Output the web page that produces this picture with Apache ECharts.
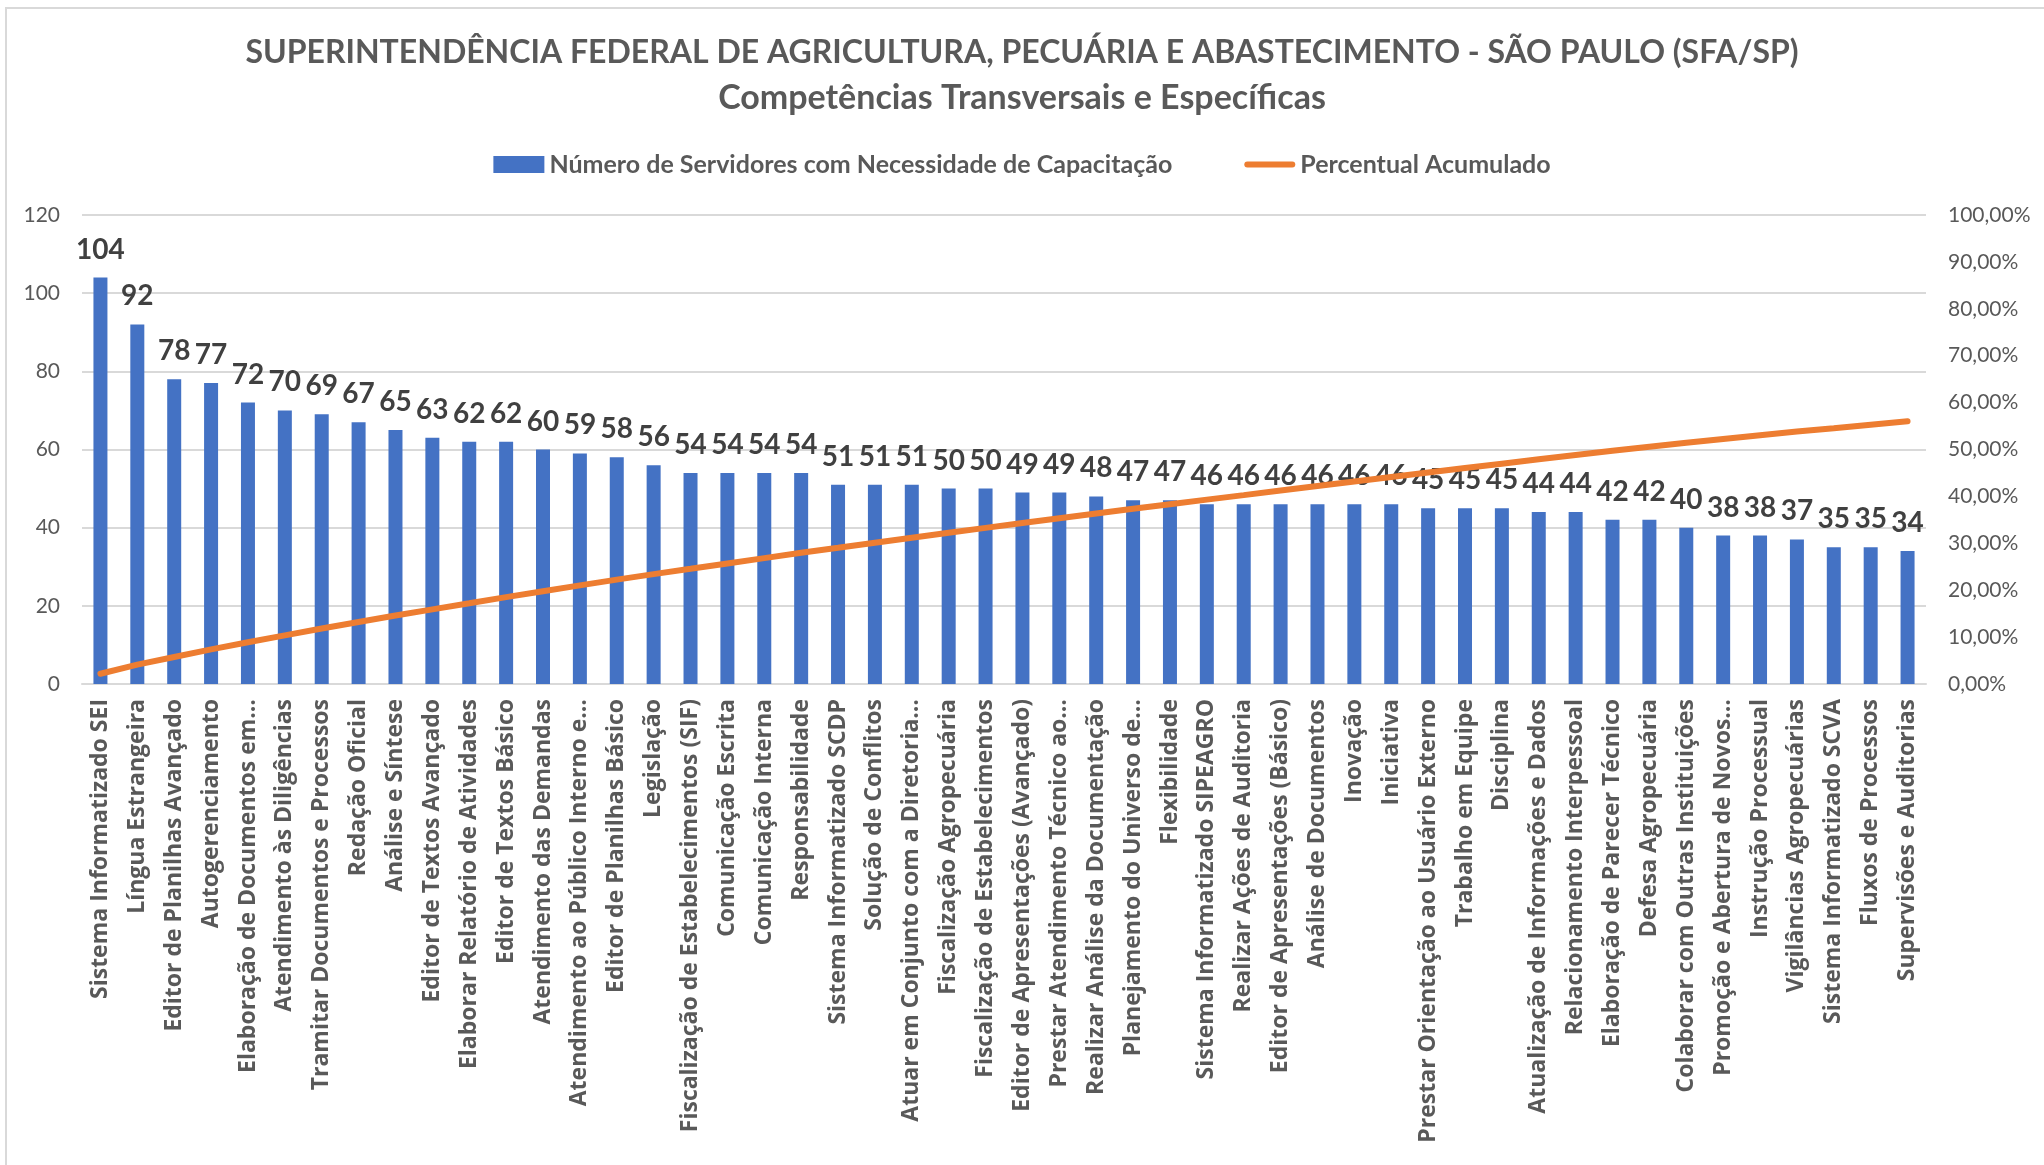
<!DOCTYPE html>
<html>
<head>
<meta charset="utf-8">
<script src="https://cdn.jsdelivr.net/npm/echarts/dist/echarts.min.js"></script>
<style>
html,body{margin:0;padding:0;background:#fff;}
#paretochart{width:2044px;height:1165px;}
</style>
</head>
<body>
<div id="paretochart"></div>
<script>
var categorias = ['Sistema Informatizado SEI','Língua Estrangeira','Editor de Planilhas Avançado','Autogerenciamento','Elaboração de Documentos em…','Atendimento às Diligências','Tramitar Documentos e Processos','Redação Oficial','Análise e Síntese','Editor de Textos Avançado','Elaborar Relatório de Atividades','Editor de Textos Básico','Atendimento das Demandas','Atendimento ao Público Interno e…','Editor de Planilhas Básico','Legislação','Fiscalização de Estabelecimentos (SIF)','Comunicação Escrita','Comunicação Interna','Responsabilidade','Sistema Informatizado SCDP','Solução de Conflitos','Atuar em Conjunto com a Diretoria…','Fiscalização Agropecuária','Fiscalização de Estabelecimentos','Editor de Apresentações (Avançado)','Prestar Atendimento Técnico ao…','Realizar Análise da Documentação','Planejamento do Universo de…','Flexibilidade','Sistema Informatizado SIPEAGRO','Realizar Ações de Auditoria','Editor de Apresentações (Básico)','Análise de Documentos','Inovação','Iniciativa','Prestar Orientação ao Usuário Externo','Trabalho em Equipe','Disciplina','Atualização de Informações e Dados','Relacionamento Interpessoal','Elaboração de Parecer Técnico','Defesa Agropecuária','Colaborar com Outras Instituições','Promoção e Abertura de Novos…','Instrução Processual','Vigilâncias Agropecuárias','Sistema Informatizado SCVA','Fluxos de Processos','Supervisões e Auditorias'];
var servidores = [104,92,78,77,72,70,69,67,65,63,62,62,60,59,58,56,54,54,54,54,51,51,51,50,50,49,49,48,47,47,46,46,46,46,46,46,45,45,45,44,44,42,42,40,38,38,37,35,35,34];
var percentual = [2.19,4.12,5.76,7.38,8.90,10.37,11.82,13.23,14.60,15.92,17.22,18.53,19.79,21.03,22.25,23.43,24.56,25.70,26.84,27.97,29.04,30.12,31.19,32.24,33.29,34.32,35.35,36.36,37.35,38.34,39.31,40.27,41.24,42.21,43.18,44.14,45.09,46.04,46.98,47.91,48.83,49.72,50.60,51.44,52.24,53.04,53.82,54.55,55.29,56.00];
var ticksEsq = [0,20,40,60,80,100,120];
var ticksDir = [0,10,20,30,40,50,60,70,80,90,100];

var option = {
    backgroundColor: '#ffffff',
    textStyle: {
        fontFamily: 'Lato'
    },
    color: ['#4472c4', '#ed7d31'],
    title: [{
        text: 'SUPERINTENDÊNCIA FEDERAL DE AGRICULTURA, PECUÁRIA E ABASTECIMENTO - SÃO PAULO (SFA/SP)',
        left: 'center',
        top: 32,
        textStyle: {
            color: '#595959',
            fontSize: 32,
            fontWeight: 'bold',
            fontFamily: 'Lato'
        }
    }, {
        text: 'Competências Transversais e Específicas',
        left: 'center',
        top: 76,
        textStyle: {
            color: '#595959',
            fontSize: 34,
            fontWeight: 'bold',
            fontFamily: 'Lato'
        }
    }],
    legend: {
        top: 147,
        left: 'center',
        itemWidth: 51,
        itemHeight: 17,
        itemGap: 72,
        textStyle: {
            color: '#595959',
            fontSize: 25,
            fontWeight: 'bold',
            fontFamily: 'Lato'
        },
        data: [
            {name: 'Número de Servidores com Necessidade de Capacitação', icon: 'rect'},
            {name: 'Percentual Acumulado', icon: 'path://M3,0L48,0A3,3,0,0,1,48,6L3,6A3,3,0,0,1,3,0Z'}
        ]
    },
    grid: {
        left: 82,
        right: 118,
        top: 215,
        bottom: 481,
        containLabel: false
    },
    xAxis: {
        type: 'category',
        data: categorias,
        axisTick: {show: false},
        axisLine: {
            lineStyle: {
                color: '#d9d9d9',
                width: 2
            }
        },
        axisLabel: {
            interval: 0,
            rotate: 90,
            margin: 15,
            color: '#595959',
            fontSize: 23,
            fontWeight: 'bold',
            fontFamily: 'Open Sans'
        }
    },
    yAxis: [{
        type: 'value',
        min: ticksEsq[0],
        max: ticksEsq[ticksEsq.length - 1],
        interval: 20,
        axisLine: {show: false},
        axisTick: {show: false},
        splitLine: {
            lineStyle: {
                color: '#d9d9d9',
                width: 2
            }
        },
        axisLabel: {
            margin: 22,
            color: '#595959',
            fontSize: 21,
            fontFamily: 'Lato'
        }
    }, {
        type: 'value',
        min: ticksDir[0],
        max: ticksDir[ticksDir.length - 1],
        interval: 10,
        axisLine: {show: false},
        axisTick: {show: false},
        splitLine: {show: false},
        axisLabel: {
            margin: 22,
            color: '#595959',
            fontSize: 21,
            fontFamily: 'Lato',
            formatter: function (v) {
                return v.toFixed(2).replace('.', ',') + '%';
            }
        }
    }],
    series: [{
        name: 'Número de Servidores com Necessidade de Capacitação',
        type: 'bar',
        barWidth: 14,
        yAxisIndex: 0,
        itemStyle: {color: '#4472c4'},
        label: {
            show: true,
            position: 'top',
            distance: 14,
            color: '#404040',
            fontSize: 28,
            fontWeight: 'bold',
            fontFamily: 'Lato'
        },
        data: servidores
    }, {
        name: 'Percentual Acumulado',
        type: 'line',
        yAxisIndex: 1,
        symbol: 'none',
        lineStyle: {
            color: '#ed7d31',
            width: 6,
            cap: 'round'
        },
        itemStyle: {color: '#ed7d31'},
        data: percentual
    }],
    graphic: [{
        type: 'rect',
        shape: {x: 6, y: 8, width: 2100, height: 1200},
        style: {fill: 'none', stroke: '#d9d9d9', lineWidth: 2},
        silent: true
    }]
};

var dom = document.getElementById('paretochart');
var myChart = echarts.init(dom);
myChart.setOption(option, true);
</script>
</body>
</html>
